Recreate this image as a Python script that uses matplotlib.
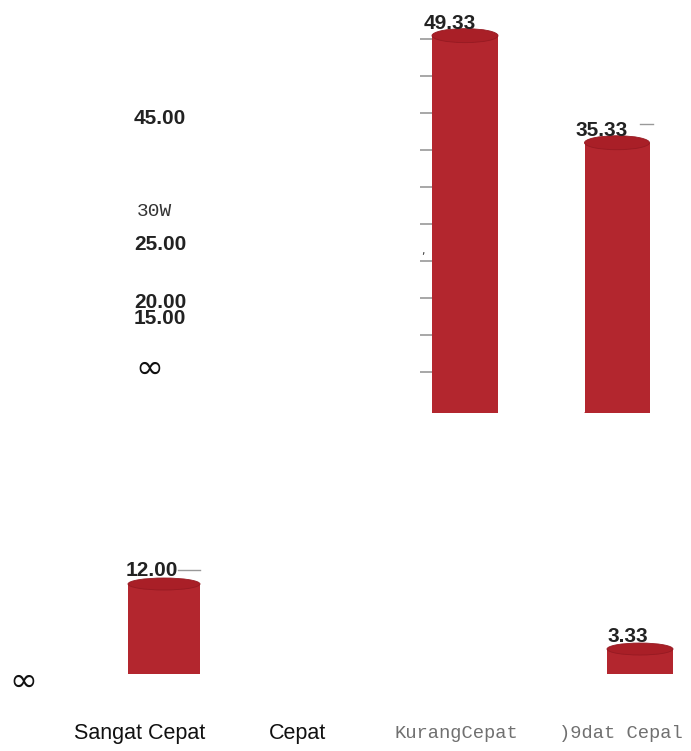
import numpy as np
import matplotlib.pyplot as plt
from matplotlib.patches import Ellipse

# ======================
# DATA
# ======================
categories = ["Sangat Cepat", "Cepat", "KurangCepat", ")9dat Cepal"]
# the scanned chart is split in two blocks with different baselines
top_idx = [2, 3]
top_vals = [49.33, 35.33]
bottom_idx = [0, 3]
bottom_vals = [12.00, 3.33]
axis_labels = ["45.00", "30W", "25.00", "20.00", "15.00", "\u221e"]
tick_vals = np.arange(5, 55, 5)

W, H = 691, 751
RED = "#b3262e"
CAP_RED = "#a91f27"
NARROW = ["Liberation Sans Narrow", "Liberation Sans", "DejaVu Sans"]
MONO = ["Liberation Mono", "DejaVu Sans Mono"]

fig = plt.figure(figsize=(W / 100, H / 100), dpi=100)
fig.patch.set_facecolor("white")

def px_rect(x0, y0, x1, y1):
    # pixel box (top-left origin) -> figure fraction rect
    return [x0 / W, 1 - y1 / H, (x1 - x0) / W, (y1 - y0) / H]

def px_x(x):
    # pixel x -> category units (category i sits at pixel 140 + 158*i)
    return (x - 140) / 158

xlim = (px_x(0), px_x(W))

def cylinder(ax, x, h, w, e):
    ax.bar(x, h, width=w, color=RED, edgecolor="none", zorder=2)
    ax.add_patch(Ellipse((x, 0), w, e, facecolor=RED, edgecolor="none", zorder=2))
    ax.add_patch(Ellipse((x, h), w, e, facecolor=CAP_RED, edgecolor="#961a22",
                         linewidth=0.6, zorder=3))

def value_label(ax, x, y, v):
    ax.text(x, y, f"{v:.2f}", ha="center", va="center", fontsize=15,
            fontweight="bold", color="#222222", family=NARROW, zorder=4)

# ---- upper block (baseline at pixel 413)
s1 = 7.65
ax1 = fig.add_axes(px_rect(0, 0, W, 413))
ax1.set_xlim(*xlim)
ax1.set_ylim(0, 413 / s1)
top_dx = [px_x(465) - 2, px_x(617) - 3]
top_w = [66 / 158, 65 / 158]
for i, v, w, dx in zip(top_idx, top_vals, top_w, top_dx):
    cylinder(ax1, i + dx, v, w, 14 / s1)
    value_label(ax1, i + dx - 15 / 158, v + 12 / s1, v)
ax1.plot([px_x(640), px_x(653)], [top_vals[1] + 19 / s1] * 2, color="#999999", lw=1)
ax1.axis("off")

# small grey ticks left of the tall bar
ax1b = fig.add_axes(px_rect(0, 0, W, 413))
ax1b.set_xlim(*xlim)
ax1b.set_ylim(-4 / 7.4, 413 / 7.4 - 4 / 7.4)
for s in ax1b.spines.values():
    s.set_visible(False)
ax1b.spines["left"].set_position(("data", px_x(432)))
ax1b.set_yticks(tick_vals)
ax1b.set_yticklabels([])
ax1b.tick_params(axis="y", length=8.5, width=1.3, color="#a0a0a0", direction="out")
ax1b.set_xticks([])
ax1b.patch.set_alpha(0)

# ---- lower block (baseline at pixel 674)
s2 = 7.5
ax2 = fig.add_axes(px_rect(0, 450, W, 674))
ax2.set_xlim(*xlim)
ax2.set_ylim(0, 224 / s2)
bot_dx = [px_x(164) - 0, px_x(640) - 3]
bot_w = [72 / 158, 66 / 158]
for i, v, w, dx in zip(bottom_idx, bottom_vals, bot_w, bot_dx):
    cylinder(ax2, i + dx, v, w, 12 / s2)
    value_label(ax2, i + dx - 12 / 158, v + 13 / s2, v)
ax2.plot([px_x(178), px_x(200)], [bottom_vals[0] + 14 / s2] * 2, color="#999999", lw=1)
ax2.axis("off")

# ---- garbled axis labels from the scan
label_pos = [(134, 118), (137, 211), (134, 245), (134, 302), (134, 318), (135, 368)]
label_style = ["b", "m", "b", "b", "b", "i"]
for t, (x, y), st in zip(axis_labels, label_pos, label_style):
    if st == "b":
        fig.text(x / W, 1 - y / H, t, ha="left", va="center", fontsize=15,
                 fontweight="bold", color="#222222", family=NARROW)
    elif st == "m":
        fig.text(x / W, 1 - y / H, t, ha="left", va="center", fontsize=14,
                 color="#333333", family=MONO)
    else:
        fig.text(x / W, 1 - y / H, t, ha="left", va="center", fontsize=24,
                 color="#111111")
fig.text(9 / W, 1 - 681 / H, "\u221e", ha="left", va="center", fontsize=24, color="#111111")
fig.text(421 / W, 1 - 251 / H, ",", ha="left", va="center", fontsize=8, color="#333333")

# ---- category labels
cat_x = [140, 298, 456, 621]
for i, (c, x) in enumerate(zip(categories, cat_x)):
    if i < 2:
        fig.text(x / W, 1 - 733 / H, c, ha="center", va="center", fontsize=15.5,
                 color="#111111", family=NARROW)
    else:
        fig.text(x / W, 1 - 733 / H, c, ha="center", va="center", fontsize=13.5,
                 color="#707070", family=MONO)

fig.savefig("out.png", dpi=100, facecolor="white")
